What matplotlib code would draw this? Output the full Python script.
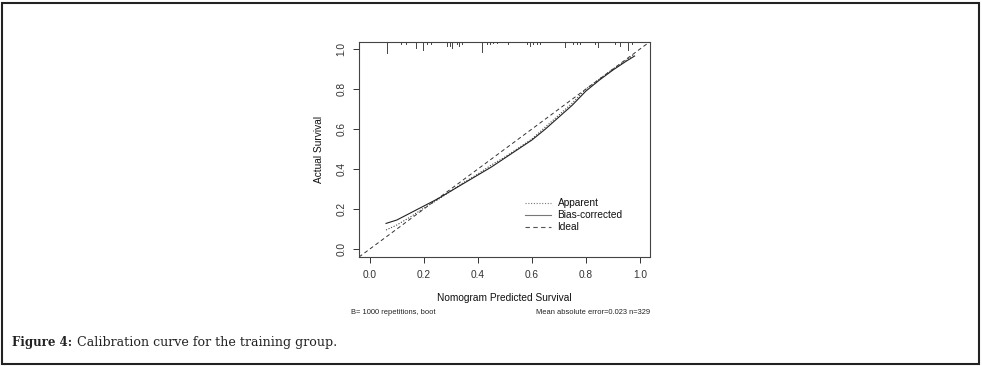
import matplotlib
matplotlib.use('Agg')
import matplotlib.pyplot as plt
from matplotlib.patches import Rectangle

# calibration curves
pred = [0.06, 0.10, 0.15, 0.20, 0.25, 0.30, 0.35, 0.40, 0.45, 0.50,
        0.55, 0.60, 0.65, 0.70, 0.75, 0.80, 0.85, 0.90, 0.95, 0.98]
bias_corrected = [0.128, 0.145, 0.18, 0.215, 0.25, 0.29, 0.33, 0.37, 0.41, 0.455,
                  0.50, 0.545, 0.60, 0.66, 0.72, 0.79, 0.845, 0.895, 0.94, 0.965]
apparent = [0.095, 0.12, 0.16, 0.205, 0.245, 0.29, 0.335, 0.375, 0.42, 0.46,
            0.505, 0.55, 0.61, 0.67, 0.73, 0.80, 0.85, 0.90, 0.945, 0.975]

# rug of predicted values along the top (position, relative frequency)
rug_x = [0.062, 0.117, 0.133, 0.170, 0.198, 0.21, 0.225, 0.284, 0.296, 0.306,
         0.321, 0.331, 0.343, 0.414, 0.432, 0.444, 0.457, 0.469, 0.512, 0.580,
         0.593, 0.605, 0.617, 0.630, 0.722, 0.753, 0.765, 0.778, 0.833, 0.846,
         0.907, 0.926, 0.957, 0.969]
rug_h = [9, 2, 2, 5, 7, 2, 2, 3, 3, 5,
         2, 3, 2, 8, 2, 2, 1, 1, 2, 2,
         3, 2, 2, 2, 4, 2, 2, 2, 2, 4,
         2, 3, 7, 2]

ticks = [0.0, 0.2, 0.4, 0.6, 0.8, 1.0]
tick_labels = ['0.0', '0.2', '0.4', '0.6', '0.8', '1.0']

plt.rcParams['font.family'] = ['Liberation Sans', 'DejaVu Sans']

fig = plt.figure(figsize=(9.82, 3.66), dpi=100)
fig.patches.append(Rectangle((0.002, 0.006), 0.995, 0.986, transform=fig.transFigure,
                             fill=False, edgecolor='#222222', linewidth=1.5))

ax = fig.add_axes([0.3656, 0.2978, 0.2963, 0.5874])
ax.set_xlim(-0.04, 1.037)
ax.set_ylim(-0.04, 1.035)

ax.plot([-0.04, 1.037], [-0.04, 1.037], linestyle=(0, (4, 3)), color='#333333', lw=0.7)
ax.plot(pred, apparent, linestyle=(0, (1, 1.5)), color='#444444', lw=0.8)
ax.plot(pred, bias_corrected, linestyle='-', color='#222222', lw=0.8)

top = 1.035
for x, h in zip(rug_x, rug_h):
    ax.plot([x, x], [top, top - h * 0.006], color='#444444', lw=0.7)

for s in ax.spines.values():
    s.set_color('#444444')
    s.set_linewidth(0.8)

ax.set_xticks(ticks)
ax.set_xticklabels(tick_labels)
ax.set_yticks(ticks)
ax.set_yticklabels(tick_labels, rotation=90, va='center')
ax.tick_params(direction='out', length=4, width=0.7, colors='#333333', labelsize=7.3, pad=5)
ax.tick_params(axis='y', pad=5)

ax.set_xlabel('Nomogram Predicted Survival', fontsize=7.3, labelpad=10, color='#111111')
ax.set_ylabel('Actual Survival', fontsize=7.3, labelpad=9, color='#111111')

# legend drawn R-style
leg_y = [0.23, 0.17, 0.11]
leg_text = ['Apparent', 'Bias-corrected', 'Ideal']
leg_style = [(0, (1, 1.5)), '-', (0, (4, 3))]
leg_col = ['#777777', '#777777', '#555555']
for y, t, st, c in zip(leg_y, leg_text, leg_style, leg_col):
    ax.plot([0.575, 0.67], [y, y], linestyle=st, color=c, lw=0.8)
    ax.text(0.695, y, t, fontsize=7.3, va='center', ha='left', color='#111111')

fig.text(0.357, 0.145, 'B= 1000 repetitions, boot', fontsize=5.4, ha='left', va='center', color='#222222')
fig.text(0.662, 0.145, 'Mean absolute error=0.023 n=329', fontsize=5.4, ha='right', va='center', color='#222222')

fig.text(0.012, 0.063, 'Figure 4:', fontsize=8.5, family='DejaVu Serif', weight='bold',
         ha='left', va='center', color='#222222')
fig.text(0.078, 0.063, 'Calibration curve for the training group.', fontsize=9.1,
         family='DejaVu Serif', ha='left', va='center', color='#222222')

fig.savefig('out.png', dpi=100)
